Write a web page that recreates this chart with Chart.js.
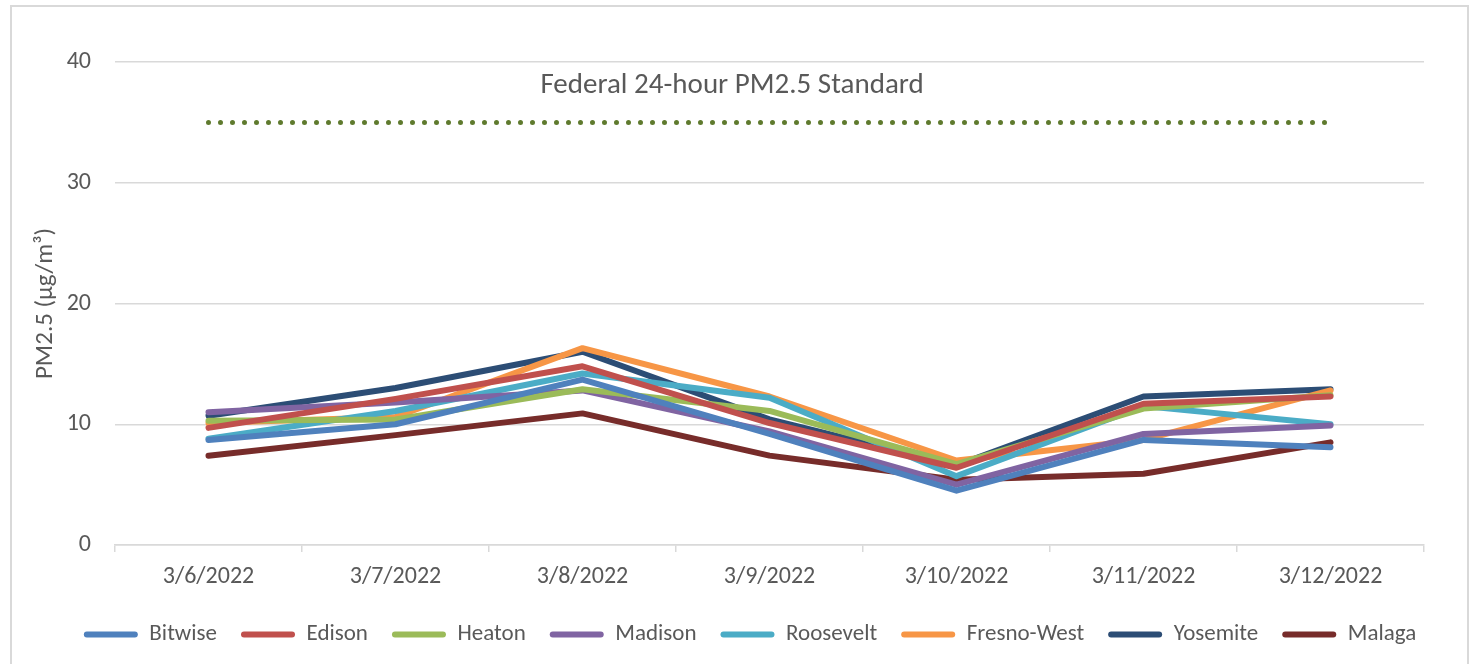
<!DOCTYPE html>
<html>
<head>
<meta charset="utf-8">
<script src="https://cdn.jsdelivr.net/npm/chart.js@4.4.0/dist/chart.umd.min.js"></script>
<style>
  body { margin: 0; background: #fff; }
  #wrap { position: relative; width: 1476px; height: 664px; overflow: hidden; }
  #frame { position: absolute; left: 10px; top: 5px; width: 1459px; height: 700px; border: 2px solid #d9d9d9; box-sizing: border-box; }
  canvas { position: absolute; left: 0; top: 0; }
</style>
</head>
<body>
<div id="wrap">
  <div id="frame"></div>
  <canvas id="pmChart" width="1476" height="664"></canvas>
</div>
<script>
var dates = ["3/6/2022", "3/7/2022", "3/8/2022", "3/9/2022", "3/10/2022", "3/11/2022", "3/12/2022"];

var bitwise    = [8.7, 10.0, 13.7, 9.2, 4.5, 8.7, 8.1];
var edison     = [9.7, 12.1, 14.8, 10.1, 6.4, 11.7, 12.3];
var heaton     = [10.3, 10.4, 12.9, 11.1, 6.7, 11.3, 12.4];
var madison    = [11.0, 11.8, 12.8, 9.4, 5.0, 9.2, 9.9];
var roosevelt  = [8.8, 11.1, 14.2, 12.2, 5.7, 11.5, 10.0];
var fresnoWest = [10.1, 10.6, 16.3, 12.3, 7.0, 8.7, 12.8];
var yosemite   = [10.7, 13.0, 16.0, 10.4, 6.6, 12.3, 12.9];
var malaga     = [7.4, 9.1, 10.9, 7.4, 5.4, 5.9, 8.5];

var standardLabel = "Federal 24-hour PM2.5 Standard";
var standard = [35, 35, 35, 35, 35, 35, 35];

var yTicks = [0, 10, 20, 30, 40];

var seriesNames = ["Bitwise", "Edison", "Heaton", "Madison", "Roosevelt", "Fresno-West", "Yosemite", "Malaga"];
var seriesData = [bitwise, edison, heaton, madison, roosevelt, fresnoWest, yosemite, malaga];
var seriesColors = ["#4f81bd", "#c0504d", "#9bbb59", "#8064a2", "#4bacc6", "#f79646", "#2c4d75", "#772c2a"];

var fontFamily = "Carlito, Calibri, Lato, sans-serif";
var textColor = "#595959";

var datasets = seriesNames.map(function (name, i) {
  return {
    label: name,
    data: seriesData[i],
    borderColor: seriesColors[i],
    backgroundColor: seriesColors[i],
    borderWidth: 6,
    borderCapStyle: "round",
    borderJoinStyle: "round",
    pointRadius: 0,
    tension: 0
  };
});

datasets.push({
  label: standardLabel,
  data: standard,
  borderColor: "#5f7a2e",
  backgroundColor: "#5f7a2e",
  borderWidth: 5,
  borderDash: [0, 12],
  borderCapStyle: "round",
  pointRadius: 0
});

// writes the standard's name above its dotted line
var standardText = {
  id: "standardText",
  afterDatasetsDraw: function (chart) {
    var ctx = chart.ctx;
    var x = chart.scales.x.getPixelForValue(2.8);
    var y = chart.scales.y.getPixelForValue(38);
    ctx.save();
    ctx.font = "29px " + fontFamily;
    ctx.fillStyle = textColor;
    ctx.textAlign = "center";
    ctx.textBaseline = "middle";
    ctx.fillText(standardLabel, x, y);
    ctx.restore();
  }
};

new Chart("pmChart", {
  type: "line",
  data: {
    labels: dates,
    datasets: datasets
  },
  plugins: [standardText],
  options: {
    responsive: false,
    animation: false,
    devicePixelRatio: 1,
    layout: { padding: { top: 62, right: 0, left: 24, bottom: 8 } },
    scales: {
      x: {
        offset: true,
        grid: { offset: true, drawOnChartArea: false, drawTicks: true, tickLength: 7, color: "#d9d9d9", lineWidth: 1.5 },
        border: { display: true, color: "#d9d9d9", width: 1.5 },
        ticks: { color: textColor, font: { family: fontFamily, size: 24 }, padding: 11, maxRotation: 0 },
        afterFit: function (scale) { scale.height = 54; }
      },
      y: {
        min: 0,
        max: 40,
        afterBuildTicks: function (scale) {
          scale.ticks = yTicks.map(function (v) { return { value: v }; });
        },
        grid: { color: "#d9d9d9", lineWidth: 1.5, drawTicks: false },
        border: { display: false },
        ticks: { color: textColor, font: { family: fontFamily, size: 24 }, padding: 24 },
        title: {
          display: true,
          text: "PM2.5 (\u00b5g/m\u00b3)",
          color: textColor,
          font: { family: fontFamily, size: 25 },
          padding: { top: 7, bottom: 0 }
        },
        afterFit: function (scale) { scale.width = 91; }
      },
      // empty right-hand axis, only reserves the right margin
      yRight: {
        position: "right",
        grid: { display: false },
        border: { display: false },
        ticks: { display: false },
        afterFit: function (scale) { scale.width = 52; }
      }
    },
    plugins: {
      title: { display: false },
      tooltip: { enabled: false },
      legend: {
        position: "bottom",
        labels: {
          color: textColor,
          font: { family: fontFamily, size: 23 },
          boxWidth: 54,
          boxHeight: 6,
          useBorderRadius: true,
          borderRadius: 3,
          padding: 24,
          filter: function (item) { return item.text !== standardLabel; },
          generateLabels: function (chart) {
            var items = Chart.defaults.plugins.legend.labels.generateLabels(chart);
            items.forEach(function (it) { it.lineWidth = 0; });
            return items;
          }
        }
      }
    }
  }
});
</script>
</body>
</html>
